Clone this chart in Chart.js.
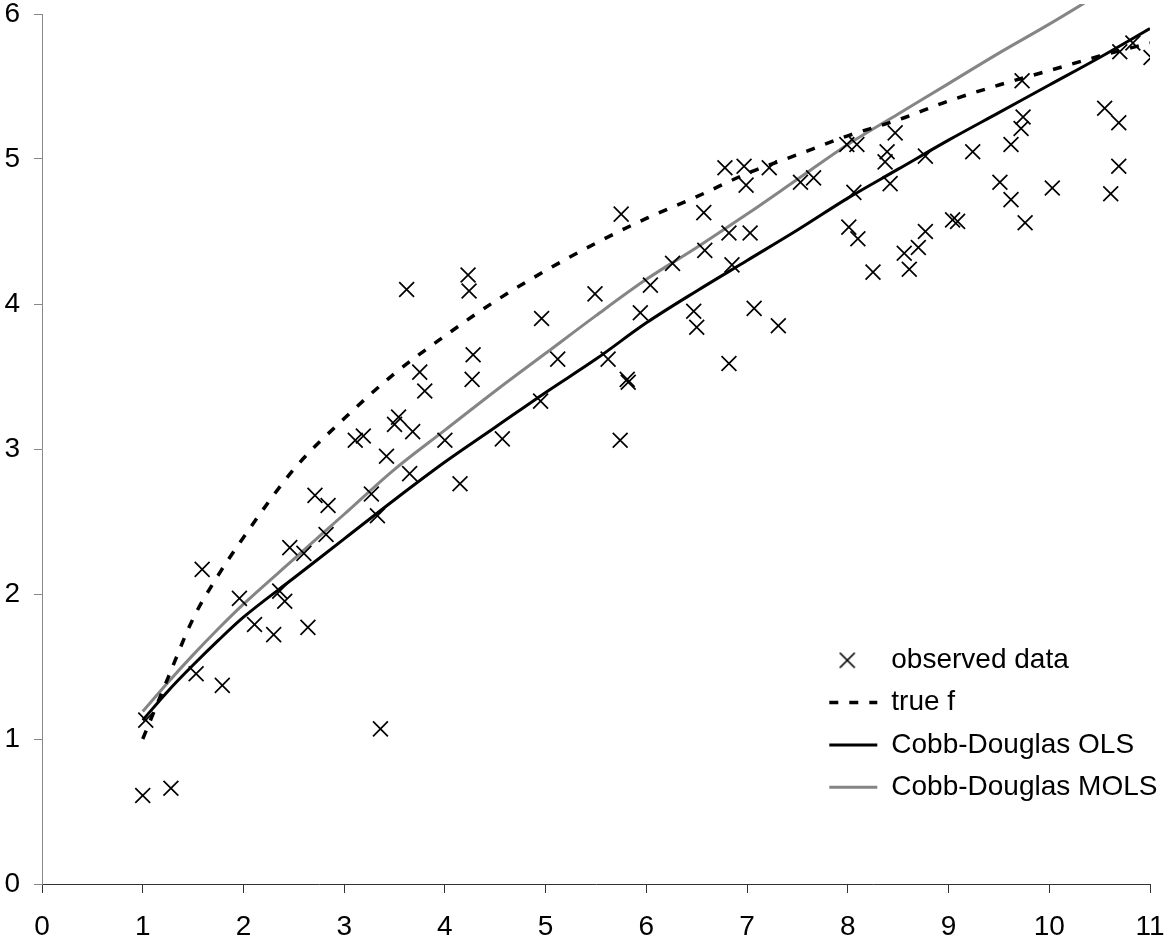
<!DOCTYPE html>
<html>
<head>
<meta charset="utf-8">
<script src="https://cdn.jsdelivr.net/npm/chart.js@4.4.1/dist/chart.umd.min.js"></script>
<style>
  html, body { margin: 0; padding: 0; background: #fff; }
  #wrap { width: 1166px; height: 942px; position: relative; }
</style>
</head>
<body>
<div id="wrap"><canvas id="cdChart"></canvas></div>
<script>
const obsX = [1.00,1.28,1.03,1.53,1.79,1.59,1.96,2.11,2.30,2.36,
  2.41,2.64,2.46,2.60,2.71,2.84,2.82,3.27,3.33,3.36,
  3.11,3.19,3.42,3.50,3.54,3.65,3.68,3.75,3.80,3.62,
  4.00,4.15,4.23,4.24,4.28,4.27,4.57,4.95,4.96,5.12,
  5.49,5.62,5.74,5.81,5.82,5.94,6.04,5.75,6.26,6.47,
  6.50,6.58,6.57,6.82,6.85,6.82,6.78,6.97,6.99,7.03,
  7.07,7.22,7.31,7.53,7.66,7.99,8.09,8.06,8.01,8.10,
  8.25,8.39,8.37,8.42,8.47,8.56,8.61,8.70,8.77,8.77,
  9.04,9.09,9.24,9.51,9.62,9.62,9.72,9.74,9.73,9.76,
  10.03,10.55,10.61,10.69,10.69,10.70,10.83,11.01];
const obsY = [0.61,0.66,1.13,1.45,1.37,2.17,1.97,1.79,1.72,2.02,
  1.95,1.77,2.32,2.28,2.68,2.61,2.41,2.69,2.54,1.07,
  3.06,3.09,2.95,3.17,3.22,2.83,3.12,3.53,3.40,4.10,
  3.06,2.76,4.20,4.09,3.65,3.48,3.07,3.33,3.90,3.62,
  4.07,3.62,3.06,3.48,3.46,3.94,4.13,4.62,4.28,3.95,
  3.84,4.37,4.63,3.59,4.27,4.49,4.94,4.95,4.82,4.49,
  3.97,4.94,3.85,4.84,4.87,5.10,5.10,4.77,4.53,4.45,
  4.22,5.05,4.98,4.83,5.18,4.35,4.24,4.39,4.50,5.02,
  4.58,4.57,5.05,4.84,4.72,5.10,5.21,5.29,5.54,4.56,
  4.80,5.35,4.76,5.25,4.95,5.74,5.80,5.70];

// curves, sampled where they were read
const curveX = [1,1.25,1.5,1.75,2,2.5,3,3.5,4,4.5,5,5.5,6,6.5,7,7.5,8,8.5,9,9.5,10,10.5,11];
const trueF  = [1.00,1.42,1.83,2.13,2.39,2.86,3.21,3.52,3.78,4.02,4.23,4.42,4.59,4.74,4.90,5.03,5.16,5.27,5.40,5.51,5.61,5.71,5.80];
const olsY   = [1.13,1.33,1.51,1.68,1.84,2.11,2.38,2.65,2.91,3.15,3.39,3.62,3.87,4.09,4.30,4.51,4.73,4.93,5.13,5.32,5.51,5.70,5.90];
const molsY  = [1.19,1.39,1.58,1.76,1.93,2.24,2.55,2.86,3.13,3.40,3.66,3.92,4.17,4.39,4.62,4.86,5.10,5.31,5.52,5.73,5.93,6.14,6.35];

const seriesNames = ['observed data','true f','Cobb-Douglas OLS','Cobb-Douglas MOLS'];
const xTicks = [0,1,2,3,4,5,6,7,8,9,10,11];
const yTicks = [0,1,2,3,4,5,6];

const pts = (xs, ys) => xs.map((x, i) => ({x: x, y: ys[i]}));

// small x used as the legend symbol of the scatter series
function crossIcon() {
  const c = document.createElement('canvas');
  c.width = 30; c.height = 18;
  const g = c.getContext('2d');
  g.strokeStyle = '#000';
  g.lineWidth = 1.7;
  g.beginPath();
  g.moveTo(1.5, 1.5); g.lineTo(16.5, 16.5);
  g.moveTo(16.5, 1.5); g.lineTo(1.5, 16.5);
  g.stroke();
  return c;
}

// put the legend in the lower right of the plot
const legendSpot = {
  id: 'legendSpot',
  afterLayout(chart) {
    const lg = chart.legend, area = chart.chartArea;
    const w = lg.width;
    lg.left = area.right - 335;
    lg.right = lg.left + w;
    lg.top = area.top + 618;
    lg.bottom = chart.height;
  }
};

window.addEventListener('load', ()=>{
  Chart.defaults.font.family = '"Liberation Sans", Arial, sans-serif';
  Chart.defaults.font.size = 28;
  Chart.defaults.color = '#000';
  const xIcon = crossIcon();

  const ctx = document.getElementById('cdChart');
  new Chart(ctx, {
    type: 'scatter',
    data: {
      datasets: [
        {label: seriesNames[0], data: pts(obsX, obsY), pointStyle: 'crossRot', pointRadius: 10.5,
          pointBorderWidth: 1.7, borderColor: '#000', backgroundColor: '#000', showLine: false},
        {label: seriesNames[1], data: pts(curveX, trueF), type: 'line', showLine: true, pointRadius: 0,
          pointStyle: 'line', borderColor: '#000', borderWidth: 3.5, borderDash: [9, 11],
          cubicInterpolationMode: 'monotone', fill: false},
        {label: seriesNames[2], data: pts(curveX, olsY), type: 'line', showLine: true, pointRadius: 0,
          pointStyle: 'line', borderColor: '#000', borderWidth: 3, cubicInterpolationMode: 'monotone', fill: false},
        {label: seriesNames[3], data: pts(curveX, molsY), type: 'line', showLine: true, pointRadius: 0,
          pointStyle: 'line', borderColor: '#858585', borderWidth: 3, cubicInterpolationMode: 'monotone',
          fill: false, clip: {left: 0, right: 0, top: 10, bottom: 0}}
      ]
    },
    options: {
      responsive: true,
      maintainAspectRatio: false,
      animation: false,
      events: [],
      layout: {padding: {left: 0, right: 16, top: 14, bottom: 0}},
      plugins: {
        tooltip: {enabled: false},
        legend: {
          position: 'chartArea',
          align: 'start',
          labels: {
            usePointStyle: true, pointStyleWidth: 48, boxHeight: 15, padding: 14.3,
            font: {size: 28}, color: '#000',
            generateLabels: (chart) => {
              const items = Chart.defaults.plugins.legend.labels.generateLabels(chart);
              items.forEach((it) => {
                const ds = chart.data.datasets[it.datasetIndex];
                it.lineDash = ds.borderDash || [];
                it.lineWidth = ds.type === 'line' ? ds.borderWidth : ds.pointBorderWidth;
                it.strokeStyle = ds.borderColor;
                if (it.datasetIndex === 0) it.pointStyle = xIcon;
              });
              return items;
            }
          }
        }
      },
      scales: {
        x: {
          type: 'linear', min: 0, max: 11,
          afterBuildTicks: (s) => { s.ticks = xTicks.map(v => ({value: v})); },
          ticks: {padding: 17, color: '#000', font: {size: 28}},
          grid: {drawOnChartArea: false, drawTicks: true, tickLength: 9, color: '#333'},
          border: {display: true, color: '#333', width: 1},
          afterFit: (s) => { s.height = 58; s.paddingLeft = 0; s.paddingRight = 0; }
        },
        y: {
          type: 'linear', min: 0, max: 6,
          afterBuildTicks: (s) => { s.ticks = yTicks.map(v => ({value: v})); },
          ticks: {padding: 14, color: '#000', font: {size: 28}},
          grid: {drawOnChartArea: false, drawTicks: true, tickLength: 8, color: '#888'},
          border: {display: true, color: '#888', width: 1},
          afterFit: (s) => { s.width = 42; s.paddingTop = 0; s.paddingBottom = 0; }
        }
      }
    },
    plugins: [legendSpot]
  });
});
</script>
</body>
</html>
